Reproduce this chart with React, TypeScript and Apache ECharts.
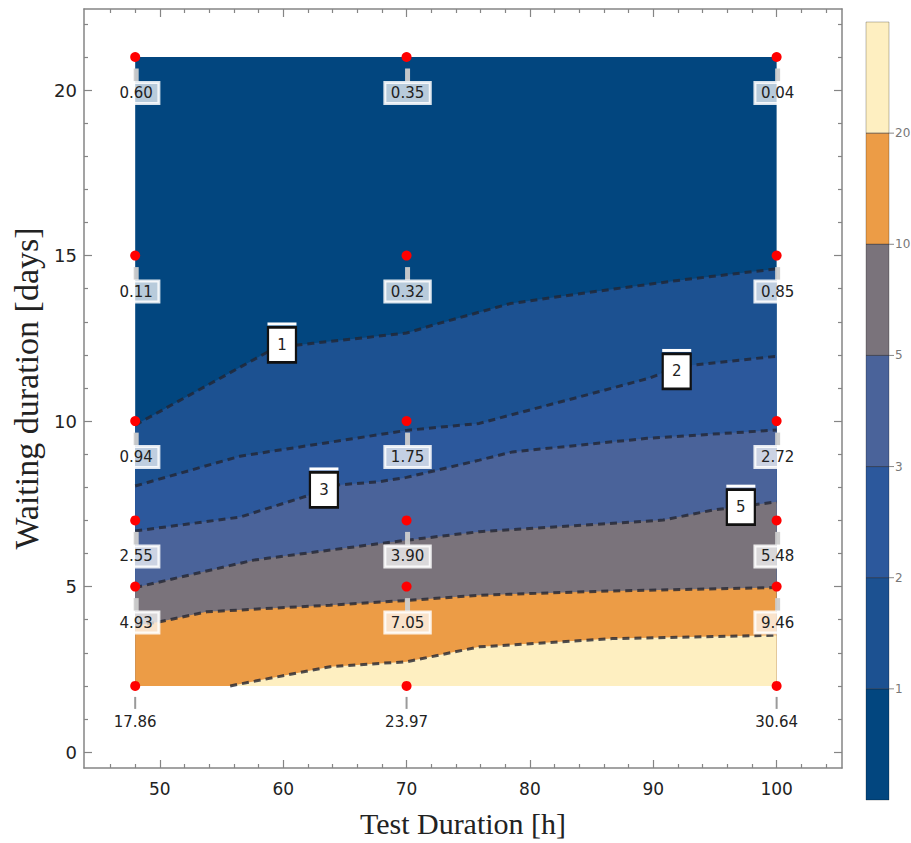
import React, { useEffect, useRef } from "react";
import * as echarts from "echarts";

// ---- data ----
const testHours = [48, 70, 100];
const waitDays = [2, 5, 7, 10, 15, 21];
const valuesAt2 = [17.86, 23.97, 30.64];
const valuesAt5 = [4.93, 7.05, 9.46];
const valuesAt7 = [2.55, 3.9, 5.48];
const valuesAt10 = [0.94, 1.75, 2.72];
const valuesAt15 = [0.11, 0.32, 0.85];
const valuesAt21 = [0.6, 0.35, 0.04];
const valueRows = [valuesAt2, valuesAt5, valuesAt7, valuesAt10, valuesAt15, valuesAt21];

const contourLevels = [1, 2, 3, 5, 10, 20];
const contour1 = [[48, 9.88], [58.7, 12.08], [60, 12.25], [62.4, 12.35], [70, 12.66], [72.7, 12.96], [78.4, 13.55], [85, 13.9], [92, 14.25], [100, 14.6]];
const contour2 = [[48, 8.04], [56.5, 8.94], [70, 9.72], [75.9, 9.93], [78.6, 10.2], [84, 10.73], [89.7, 11.3], [92.1, 11.65], [100, 11.96]];
const contour3 = [[48, 6.68], [56.5, 7.1], [62.1, 7.76], [64.4, 8.07], [67.8, 8.17], [70, 8.3], [75.9, 8.82], [78.6, 9.07], [89.5, 9.48], [100, 9.73]];
const contour5 = [[48, 4.97], [57.6, 5.8], [67.8, 6.3], [70, 6.4], [75.9, 6.66], [90.8, 7.01], [94.8, 7.31], [100, 7.56]];
const contour10 = [[48, 3.82], [50, 3.94], [53.8, 4.24], [63.8, 4.44], [70, 4.58], [75.9, 4.74], [86.7, 4.87], [100, 4.97]];
const contour20 = [[55.7, 2.0], [63.8, 2.58], [67.8, 2.68], [70, 2.73], [75.9, 3.18], [86.7, 3.43], [100, 3.53]];
const contours = [contour1, contour2, contour3, contour5, contour10, contour20];

const contourLabelText = ["1", "2", "3", "5"];
const contourLabelX = [59.9, 91.9, 63.3, 97.1];
const contourLabelY = [12.3, 11.5, 7.92, 7.4];

const bandColors = ["#02467f", "#1c5191", "#2c589c", "#4a639a", "#7a737b", "#ec9c46", "#feefc1"];

const xMajor = [50, 60, 70, 80, 90, 100];
const xMinor = [46, 48, 52, 54, 56, 58, 62, 64, 66, 68, 72, 74, 76, 78, 82, 84, 86, 88, 92, 94, 96, 98, 102, 104];
const yMajor = [0, 5, 10, 15, 20];
const yMinor = [1, 2, 3, 4, 6, 7, 8, 9, 11, 12, 13, 14, 16, 17, 18, 19, 21, 22];

const X_MIN = 43.85, X_MAX = 105.3, Y_MIN = -0.48, Y_MAX = 22.45;

export default function App() {
  const ref = useRef<HTMLDivElement>(null);
  useEffect(() => {
    document.body.style.margin = "0";
    const chart = echarts.init(ref.current!, null, { renderer: "svg" });
    const axisColor = "#858585";
    const mkX = (pos: string, vals: number[], len: number, labels: boolean, line: boolean) => ({
      type: "value", min: X_MIN, max: X_MAX, position: pos,
      axisLine: { show: line, onZero: false, lineStyle: { color: axisColor, width: 1.5 } },
      axisTick: { show: true, inside: true, length: len, customValues: vals, lineStyle: { color: axisColor, width: 1.2 } },
      axisLabel: labels ? { show: true, customValues: vals, margin: 12, fontSize: 17, color: "#222", fontFamily: "DejaVu Sans" } : { show: false },
      splitLine: { show: false },
    });
    const mkY = (pos: string, vals: number[], len: number, labels: boolean, line: boolean) => ({
      type: "value", min: Y_MIN, max: Y_MAX, position: pos,
      axisLine: { show: line, onZero: false, lineStyle: { color: axisColor, width: 1.5 } },
      axisTick: { show: true, inside: true, length: len, customValues: vals, lineStyle: { color: axisColor, width: 1.2 } },
      axisLabel: labels ? { show: true, customValues: vals, margin: 7, fontSize: 18, color: "#222", fontFamily: "DejaVu Sans" } : { show: false },
      splitLine: { show: false },
    });
    const xAxes: any[] = [mkX("bottom", xMajor, 8, true, true), mkX("bottom", xMinor, 4, false, false), mkX("top", xMajor, 8, false, true), mkX("top", xMinor, 4, false, false)];
    xAxes[0].name = "Test Duration [h]";
    xAxes[0].nameLocation = "middle";
    xAxes[0].nameGap = 40;
    xAxes[0].nameTextStyle = { fontFamily: "Liberation Serif", fontSize: 30, color: "#222" };
    const yAxes: any[] = [mkY("left", yMajor, 8, true, true), mkY("left", yMinor, 4, false, false), mkY("right", yMajor, 8, false, true), mkY("right", yMinor, 4, false, false)];
    yAxes[0].name = "Waiting duration [days]";
    yAxes[0].nameLocation = "middle";
    yAxes[0].nameGap = 40;
    yAxes[0].nameTextStyle = { fontFamily: "Liberation Serif", fontSize: 34, color: "#222" };

    const series: any[] = [];
    series.push({
      type: "line", data: [[testHours[0], waitDays[5]], [testHours[2], waitDays[5]]], symbol: "none",
      lineStyle: { width: 0 }, areaStyle: { color: bandColors[0], opacity: 1, origin: waitDays[0] }, z: 2, silent: true,
    });
    contours.forEach((c, i) => {
      series.push({
        type: "line", data: c, symbol: "none", smooth: false,
        lineStyle: { color: "rgba(35,38,50,0.8)", width: 3, type: [7, 5] },
        areaStyle: { color: bandColors[i + 1], opacity: 1, origin: waitDays[0] }, z: 2, silent: true,
      });
    });
    const pts: any[] = [];
    const pts2: any[] = [];
    waitDays.forEach((y, r) => testHours.forEach((x, c) => {
      if (r === 0) pts2.push([x, y, valueRows[r][c]]);
      else pts.push([x, y, valueRows[r][c]]);
    }));
    series.push({
      type: "scatter", data: pts, symbol: "rect", symbolSize: [5, 13], symbolOffset: [1, 18],
      itemStyle: { color: "rgba(205,205,205,0.95)", opacity: 1 }, z: 3, silent: true,
    });
    series.push({
      type: "scatter", data: pts2, symbol: "rect", symbolSize: [2, 12], symbolOffset: [0, 17],
      itemStyle: { color: "#9a9a9a", opacity: 1 }, z: 3, silent: true,
    });
    series.push({
      type: "scatter", data: pts, symbolSize: 10, itemStyle: { color: "#ff0000", opacity: 1 }, z: 4,
      label: {
        show: true, position: "inside", offset: [1, 36], formatter: (p: any) => p.value[2].toFixed(2),
        fontFamily: "DejaVu Sans", fontSize: 15, color: "#222",
        backgroundColor: "rgba(255,255,255,0.72)", borderColor: "rgba(255,255,255,0.85)", borderWidth: 1.5,
        padding: [3, 6, 3, 6],
      },
    });
    series.push({
      type: "scatter", data: pts2, symbolSize: 10, itemStyle: { color: "#ff0000", opacity: 1 }, z: 4,
      label: {
        show: true, position: "inside", offset: [0, 36], formatter: (p: any) => p.value[2].toFixed(2),
        fontFamily: "DejaVu Sans", fontSize: 15, color: "#222",
      },
    });
    const clData = contourLabelText.map((t, i) => ({ name: t, value: [contourLabelX[i], contourLabelY[i]] }));
    series.push({
      type: "scatter", data: clData, symbol: "rect", symbolSize: [29, 3], symbolOffset: [0, -21],
      itemStyle: { color: "#fff", opacity: 1 }, z: 5, silent: true,
    });
    series.push({
      type: "scatter", data: clData, symbol: "rect", symbolSize: [28, 35],
      itemStyle: { color: "#fff", borderColor: "#111", borderWidth: 2.5, opacity: 1 }, z: 5, silent: true,
      label: { show: true, position: "inside", formatter: "{b}", fontFamily: "DejaVu Sans", fontSize: 15, color: "#222" },
    });

    // colorbar
    const cbTop = 22, cbBottom = 800, cbLeft = 866, cbW = 23;
    const segH = (cbBottom - cbTop) / bandColors.length;
    const graphic: any[] = [];
    bandColors.slice().reverse().forEach((col, i) => {
      graphic.push({ type: "rect", shape: { x: cbLeft, y: cbTop + i * segH, width: cbW, height: segH }, style: { fill: col } });
    });
    graphic.push({ type: "rect", shape: { x: cbLeft, y: cbTop, width: cbW, height: cbBottom - cbTop }, style: { fill: "none", stroke: "rgba(0,0,0,0.25)", lineWidth: 1 } });
    const cbLabels = contourLevels.slice().reverse();
    cbLabels.forEach((lv, i) => {
      const y = cbTop + (i + 1) * segH;
      graphic.push({ type: "line", shape: { x1: cbLeft, y1: y, x2: cbLeft + cbW, y2: y }, style: { stroke: "rgba(20,20,30,0.6)", lineWidth: 1 } });
      graphic.push({ type: "line", shape: { x1: cbLeft + cbW, y1: y, x2: cbLeft + cbW + 5, y2: y }, style: { stroke: "#888", lineWidth: 1 } });
      graphic.push({ type: "text", x: cbLeft + cbW + 6, y, style: { text: String(lv), fill: "#777", fontSize: 12, fontFamily: "DejaVu Sans", verticalAlign: "middle", align: "left" } });
    });

    chart.setOption({
      animation: false,
      grid: { left: 84, right: 69, top: 9, bottom: 75, containLabel: false },
      xAxis: xAxes,
      yAxis: yAxes,
      series,
      graphic,
    });
    return () => chart.dispose();
  }, []);
  return <div ref={ref} style={{ width: 911, height: 843 }} />;
}
